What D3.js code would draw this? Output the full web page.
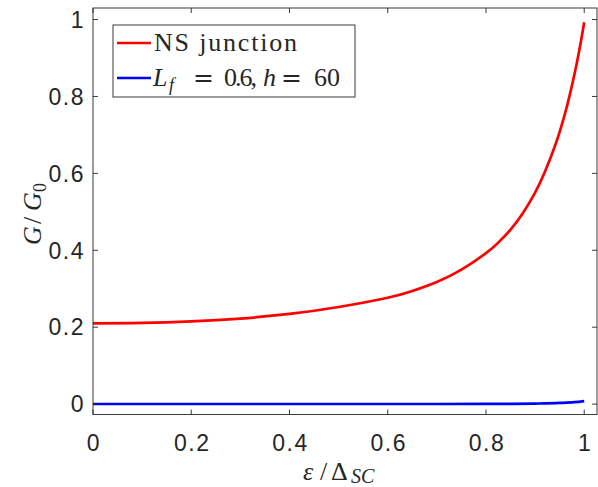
<!DOCTYPE html>
<html>
<head>
<meta charset="utf-8">
<script src="https://cdn.jsdelivr.net/npm/d3@7"></script>
<style>
  body { margin: 0; background: #fff; }
  .tick-lbl { font-family: "Liberation Sans", Arial, sans-serif; font-size: 23px; fill: #262626; letter-spacing: 1.5px; }
  .math { font-family: "Liberation Serif", "DejaVu Serif", serif; fill: #262626; font-size: 26px; }
  .eq { font-family: "DejaVu Serif", serif; font-size: 25px; }
</style>
</head>
<body>
<svg id="chart" width="598" height="487"></svg>
<script>
// data
var eps = [0, 0.1, 0.2, 0.3, 0.4, 0.5, 0.6, 0.65, 0.7, 0.75, 0.8, 0.825, 0.85, 0.875, 0.9, 0.92, 0.94, 0.95, 0.96, 0.97, 0.98, 0.99, 1.0];
var nsJunction = [0.210, 0.211, 0.215, 0.2225, 0.2345, 0.2525, 0.2765, 0.294, 0.3175, 0.3495, 0.3925, 0.420, 0.454, 0.4965, 0.550, 0.604, 0.670, 0.708, 0.7515, 0.801, 0.857, 0.920, 0.993];
var epsBlue = [0, 0.2, 0.4, 0.6, 0.8, 0.85, 0.9, 0.95, 0.98, 1.0];
var lfCurve = [0.0003, 0.0003, 0.0003, 0.0003, 0.0005, 0.0008, 0.0015, 0.003, 0.005, 0.008];
var xTicks = [0, 0.2, 0.4, 0.6, 0.8, 1];
var yTicks = [0, 0.2, 0.4, 0.6, 0.8, 1];

var axLeft = 93, axRight = 597, axTop = 8, axBottom = 414.5;
var axisColor = "#262626";

var svg = d3.select("#chart");

var x = d3.scaleLinear().domain([0, 1.026]).range([axLeft, axRight]);
var y = d3.scaleLinear().domain([-0.027, 1.03]).range([axBottom, axTop]);

var line = d3.line()
  .x(function (d) { return x(d[0]); })
  .y(function (d) { return y(d[1]); })
  .curve(d3.curveNatural);

// curves
svg.append("path")
  .datum(d3.zip(eps, nsJunction))
  .attr("d", line)
  .attr("fill", "none")
  .attr("stroke", "#ff0000")
  .attr("stroke-width", 2.7);

svg.append("path")
  .datum(d3.zip(epsBlue, lfCurve))
  .attr("d", line.curve(d3.curveMonotoneX))
  .attr("fill", "none")
  .attr("stroke", "#0000ff")
  .attr("stroke-width", 2.7);

// axis box + ticks inside, matlab style
var tickLen = 5;
var g = svg.append("g").attr("stroke", axisColor).attr("stroke-width", 0.9).attr("fill", "none");
g.append("rect")
  .attr("x", axLeft).attr("y", axTop)
  .attr("width", axRight - axLeft).attr("height", axBottom - axTop);

xTicks.forEach(function (t) {
  g.append("line").attr("x1", x(t)).attr("x2", x(t)).attr("y1", axBottom).attr("y2", axBottom - tickLen);
  g.append("line").attr("x1", x(t)).attr("x2", x(t)).attr("y1", axTop).attr("y2", axTop + tickLen);
});
yTicks.forEach(function (t) {
  g.append("line").attr("y1", y(t)).attr("y2", y(t)).attr("x1", axLeft).attr("x2", axLeft + tickLen);
  g.append("line").attr("y1", y(t)).attr("y2", y(t)).attr("x1", axRight).attr("x2", axRight - tickLen);
});

svg.selectAll(".xl")
  .data(xTicks)
  .enter()
  .append("text")
  .attr("class", "tick-lbl")
  .attr("x", function (d) { return x(d) + 1; })
  .attr("y", 451)
  .attr("text-anchor", "middle")
  .text(function (d) { return d3.format("~g")(d); });

svg.selectAll(".yl")
  .data(yTicks)
  .enter()
  .append("text")
  .attr("class", "tick-lbl")
  .attr("x", 85)
  .attr("y", function (d) { return y(d); })
  .attr("dy", "0.36em")
  .attr("text-anchor", "end")
  .text(function (d) { return d3.format("~g")(d); });

// axis labels
var xl = svg.append("text").attr("class", "math").attr("y", 480);
xl.append("tspan").attr("x", 303).style("font-style", "italic").text("ε");
xl.append("tspan").attr("x", 320).text("/");
xl.append("tspan").attr("x", 331).text("Δ");
xl.append("tspan").attr("x", 351).attr("dy", 3)
  .style("font-style", "italic").style("font-size", "20px").text("SC");

var yl = svg.append("text").attr("class", "math")
  .attr("transform", "translate(41,245) rotate(-90)");
yl.append("tspan").attr("x", 0).style("font-style", "italic").text("G");
yl.append("tspan").attr("x", 21).text("/");
yl.append("tspan").attr("x", 34).style("font-style", "italic").text("G");
yl.append("tspan").attr("x", 53).attr("dy", 5).style("font-size", "18px").text("0");

// legend
var lg = svg.append("g");
lg.append("rect")
  .attr("x", 113).attr("y", 25)
  .attr("width", 242).attr("height", 72)
  .attr("fill", "#fff")
  .attr("stroke", axisColor)
  .attr("stroke-width", 0.9);

var legendItems = [
  { color: "#ff0000", y: 43 },
  { color: "#0000ff", y: 78 }
];
lg.selectAll(".ll")
  .data(legendItems)
  .enter()
  .append("line")
  .attr("x1", 117).attr("x2", 151)
  .attr("y1", function (d) { return d.y; })
  .attr("y2", function (d) { return d.y; })
  .attr("stroke", function (d) { return d.color; })
  .attr("stroke-width", 2.7);

lg.append("text").attr("class", "math")
  .attr("x", 154).attr("y", 51)
  .attr("textLength", 143)
  .attr("lengthAdjust", "spacing")
  .text("NS junction");

var t2 = lg.append("text").attr("class", "math").attr("y", 86);
t2.append("tspan").attr("x", 153).style("font-style", "italic").text("L");
t2.append("tspan").attr("x", 169).attr("dy", 5).style("font-style", "italic").style("font-size", "18px").text("f");
t2.append("tspan").attr("x", 193).attr("dy", -5).attr("class", "eq").text("=");
t2.append("tspan").attr("x", 224).attr("textLength", 33).text("0.6,");
t2.append("tspan").attr("x", 263).style("font-style", "italic").text("h");
t2.append("tspan").attr("x", 281).attr("class", "eq").text("=");
t2.append("tspan").attr("x", 314).text("60");
</script>
</body>
</html>
